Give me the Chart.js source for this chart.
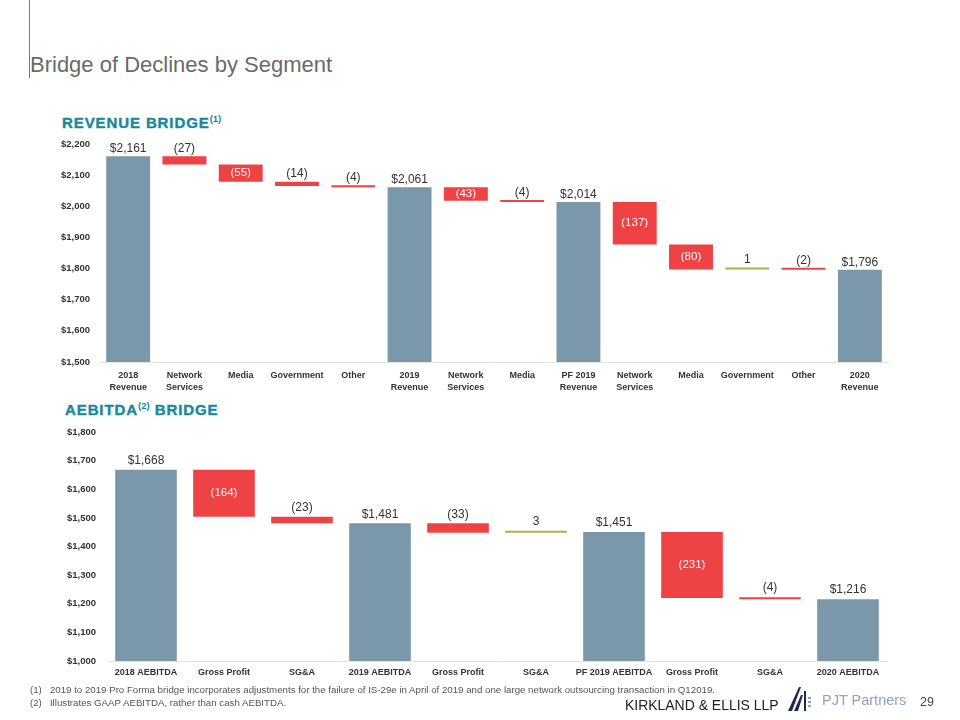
<!DOCTYPE html>
<html>
<head>
<meta charset="utf-8">
<script src="https://cdn.jsdelivr.net/npm/chart.js@4.4.1/dist/chart.umd.min.js"></script>
<style>
  body { margin: 0; width: 960px; height: 720px; position: relative; background: #fff; font-family: "Liberation Sans", Arial, sans-serif; overflow: hidden; }
  .abs { position: absolute; }
  #rule { left: 29px; top: 0; width: 1px; height: 78px; background: #777; }
  #title { left: 30px; top: 52px; font-size: 22px; color: #6a6a6a; white-space: nowrap; }
  .head { font-size: 15px; font-weight: bold; color: #17899a; letter-spacing: 0.9px; white-space: nowrap; -webkit-text-stroke: 0.4px #17899a; }
  .head sup { font-size: 9.5px; letter-spacing: 0; -webkit-text-stroke: 0; }
  .note { left: 30px; font-size: 9.7px; color: #555; white-space: nowrap; }
  #kirk { left: 625px; top: 696px; font-size: 15.5px; color: #222; white-space: nowrap; transform: scaleX(0.9); transform-origin: left top; }
  #pjt { left: 822px; top: 692px; font-size: 14.5px; color: #8ca3bd; white-space: nowrap; }
  #page { left: 920px; top: 695px; font-size: 12.5px; color: #444; }
</style>
</head>
<body>
<div id="rule" class="abs"></div>
<div id="title" class="abs">Bridge of Declines by Segment</div>
<div class="abs head" style="left:62px;top:113px;">REVENUE BRIDGE<sup>(1)</sup></div>
<div class="abs head" style="left:65px;top:400px;">AEBITDA<sup>(2)</sup> BRIDGE</div>

<canvas id="revChart" class="abs" width="860" height="300" style="left:40px;top:100px;"></canvas>
<canvas id="ebitdaChart" class="abs" width="860" height="270" style="left:40px;top:415px;"></canvas>

<div class="abs note" style="top:684px;">(1)&nbsp;&nbsp;&nbsp;2019 to 2019 Pro Forma bridge incorporates adjustments for the failure of IS-29e in April of 2019 and one large network outsourcing transaction in Q12019.</div>
<div class="abs note" style="top:697px;">(2)&nbsp;&nbsp;&nbsp;Illustrates GAAP AEBITDA, rather than cash AEBITDA.</div>
<div id="kirk" class="abs">KIRKLAND &amp; ELLIS LLP</div>
<svg class="abs" style="left:788px;top:685px;" width="30" height="28" viewBox="0 0 30 28">
  <polygon points="0,26 11,2 13,2 4,26" fill="#1f2d4a"/>
  <polygon points="6,26 13,10 15,10 10,26" fill="#1f2d4a"/>
  <rect x="16" y="6" width="2" height="20" fill="#1f2d4a"/>
  <rect x="20" y="12" width="3" height="2" fill="#8ca3bd"/>
  <rect x="20" y="16" width="3" height="2" fill="#8ca3bd"/>
  <rect x="20" y="20" width="3" height="2" fill="#8ca3bd"/>
</svg>
<div id="pjt" class="abs">PJT Partners</div>
<div id="page" class="abs">29</div>

<script>
const revLabels = [['2018', 'Revenue'], ['Network', 'Services'], 'Media', 'Government', 'Other',
  ['2019', 'Revenue'], ['Network', 'Services'], 'Media', ['PF 2019', 'Revenue'], ['Network', 'Services'],
  'Media', 'Government', 'Other', ['2020', 'Revenue']];
const revValues = [2161, -27, -55, -14, -4, 2061, -43, -4, 2014, -137, -80, 1, -2, 1796];
const revTotals = [true, false, false, false, false, true, false, false, true, false, false, false, false, true];

const ebitdaLabels = ['2018 AEBITDA', 'Gross Profit', 'SG&A', '2019 AEBITDA', 'Gross Profit', 'SG&A',
  'PF 2019 AEBITDA', 'Gross Profit', 'SG&A', '2020 AEBITDA'];
const ebitdaValues = [1668, -164, -23, 1481, -33, 3, 1451, -231, -4, 1216];
const ebitdaTotals = [true, false, false, true, false, false, true, false, false, true];

const GREY = '#7b97aa';
const RED = '#ee4245';
const GREEN = '#a9b441';

// floating bars: totals from axis floor, steps from the running level
function buildBars(values, totals, floor) {
  let level = 0;
  return values.map((v, i) => {
    if (totals[i]) { level = v; return [floor, v]; }
    const start = level;
    level += v;
    return [start, level];
  });
}

function fmt(v, total) {
  if (total) return '$' + v.toLocaleString('en-US');
  return v < 0 ? '(' + Math.abs(v) + ')' : String(v);
}

const barLabels = {
  id: 'barLabels',
  afterDatasetsDraw(chart) {
    const ctx = chart.ctx;
    const ds = chart.data.datasets[0];
    const meta = chart.getDatasetMeta(0);
    const gap = chart.options.plugins.barLabels.gap;
    ctx.save();
    ctx.textAlign = 'center';
    ctx.textBaseline = 'middle';
    meta.data.forEach((bar, i) => {
      const v = ds.values[i];
      const total = ds.totals[i];
      const top = Math.min(bar.y, bar.base);
      const h = Math.abs(bar.base - bar.y);
      const txt = fmt(v, total);
      if (!total && h >= 12) {
        ctx.fillStyle = '#fff';
        ctx.font = '11.5px "Liberation Sans", Arial, sans-serif';
        ctx.fillText(txt, bar.x, top + h / 2);
      } else {
        ctx.fillStyle = '#333';
        ctx.font = '12px "Liberation Sans", Arial, sans-serif';
        ctx.fillText(txt, bar.x, top - gap);
      }
    });
    ctx.restore();
  }
};

function makeChart(id, labels, values, totals, min, max, opts) {
  return new Chart(id, {
    type: 'bar',
    data: {
      labels: labels,
      datasets: [{
        data: buildBars(values, totals, min),
        values: values,
        totals: totals,
        backgroundColor: values.map((v, i) => totals[i] ? GREY : (v < 0 ? RED : GREEN)),
        borderWidth: 0,
        barPercentage: opts.barPct,
        categoryPercentage: 1,
        minBarLength: 2
      }]
    },
    options: {
      responsive: false,
      animation: false,
      layout: { padding: { top: opts.padTop, right: opts.padRight, left: 0, bottom: 0 } },
      plugins: { legend: { display: false }, tooltip: { enabled: false }, barLabels: { gap: opts.gap } },
      scales: {
        x: {
          grid: { display: false, drawTicks: false },
          border: { display: true, color: '#e2e2e2', width: 1 },
          ticks: {
            color: '#333', padding: opts.xPad, maxRotation: 0, autoSkip: false,
            font: { family: '"Liberation Sans", Arial, sans-serif', size: 9, weight: 'bold', lineHeight: 1.33 }
          },
          afterFit(scale) { scale.height = opts.xHeight; }
        },
        y: {
          min: min, max: max,
          grid: { display: false, drawTicks: false },
          border: { display: false },
          ticks: {
            stepSize: 100, padding: opts.yPad, color: '#333',
            font: { family: '"Liberation Sans", Arial, sans-serif', size: 9.5, weight: 'bold' },
            callback: v => '$' + v.toLocaleString('en-US')
          },
          afterFit(scale) { scale.width = opts.yWidth; }
        }
      }
    },
    plugins: [barLabels]
  });
}

makeChart('revChart', revLabels, revValues, revTotals, 1500, 2200,
  { barPct: 0.78, padTop: 44, padRight: 12, xHeight: 38, xPad: 8, yPad: 10, yWidth: 60, gap: 7.5 });
makeChart('ebitdaChart', ebitdaLabels, ebitdaValues, ebitdaTotals, 1000, 1800,
  { barPct: 0.79, padTop: 17, padRight: 13, xHeight: 24, xPad: 6, yPad: 11, yWidth: 67, gap: 9 });
</script>
</body>
</html>
